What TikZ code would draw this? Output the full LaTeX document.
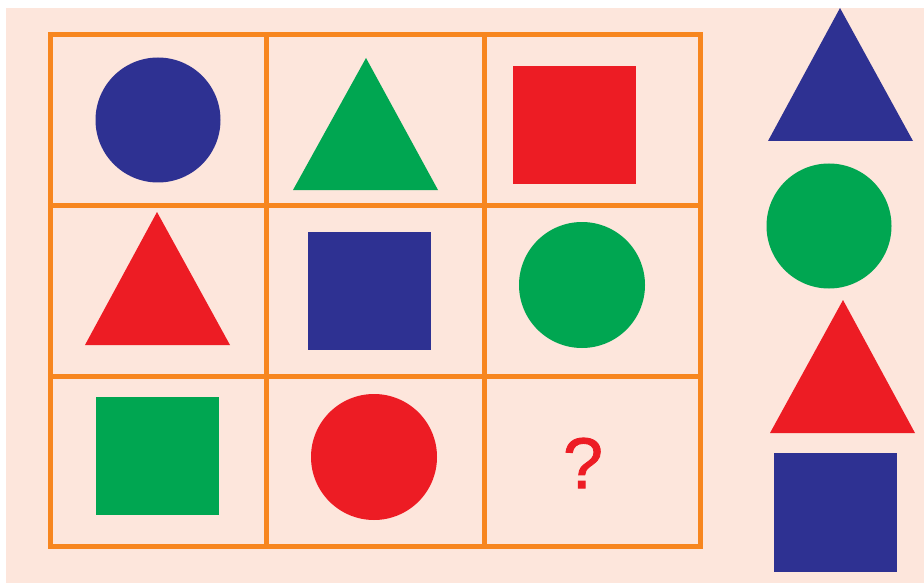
\documentclass[tikz,border=0pt]{standalone}
\usepackage{fontspec}
\setmainfont{Liberation Sans}
\newfontfamily\qfont[FakeBold=1.2]{Liberation Sans}
\definecolor{peach}{HTML}{FDE6DC}
\definecolor{gridor}{HTML}{F7861F}
\definecolor{sblue}{HTML}{2E3192}
\definecolor{sgreen}{HTML}{00A651}
\definecolor{sred}{HTML}{ED1C24}
\tikzset{
  gridline/.style={draw=gridor, line width=5pt, line cap=rect},
}
\begin{document}
\begin{tikzpicture}[x=1pt,y=-1pt]
\useasboundingbox (0,0) rectangle (924,583);
\fill[white] (0,0) rectangle (924,583);
\fill[peach] (6,8) rectangle (924,583);
% grid
\foreach \x in {50,266,484,700} \draw[gridline] (\x,34.5) -- (\x,546);
\foreach \y in {34.5,205,376,546} \draw[gridline] (50,\y) -- (700,\y);
% row 1
\fill[sblue] (158,120) circle (62.5);
\fill[sgreen] (366,58) -- (293,190) -- (438,190) -- cycle;
\fill[sred] (513,66) rectangle (636,184);
% row 2
\fill[sred] (157,212) -- (85,345) -- (230,345) -- cycle;
\fill[sblue] (308,232) rectangle (431,350);
\fill[sgreen] (582,285) circle (63);
% row 3
\fill[sgreen] (96,397) rectangle (219,515);
\fill[sred] (374,457) circle (63);
\node[text=sred, font=\qfont\fontsize{72}{72}\selectfont, inner sep=0pt] (q) at (583,463) {?};
% options
\fill[sblue] (840,8) -- (768,141) -- (913,141) -- cycle;
\fill[sgreen] (829,226) circle (62.5);
\fill[sred] (843,300) -- (770,433) -- (915,433) -- cycle;
\fill[sblue] (774,453) rectangle (897,572);
\end{tikzpicture}
\end{document}
